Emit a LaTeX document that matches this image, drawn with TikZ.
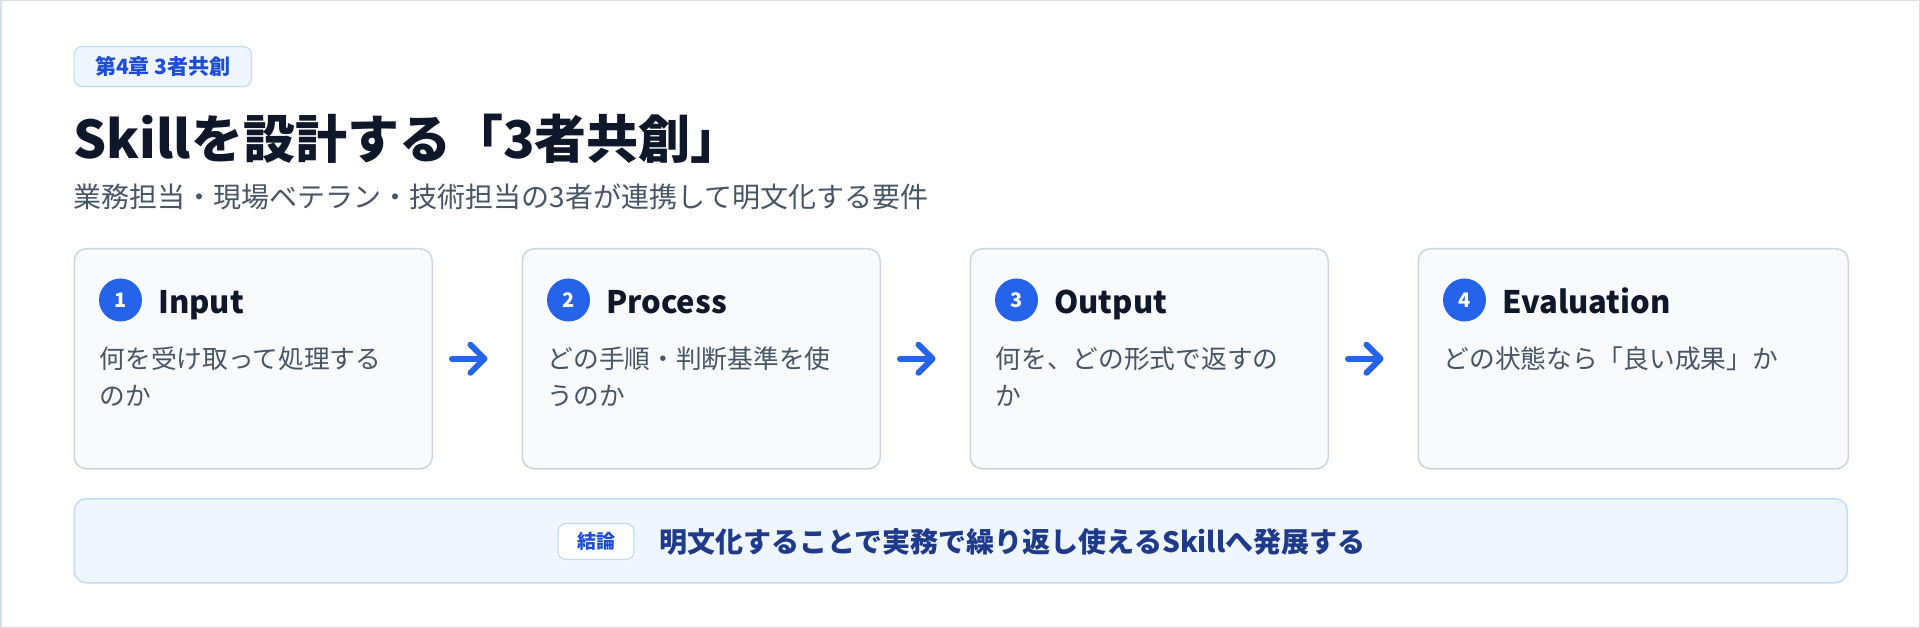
\documentclass[tikz,border=0pt]{standalone}
\usepackage{fontspec}
\setmainfont{Noto Sans CJK JP}
\usepackage{tikz}
\usetikzlibrary{arrows.meta}
\usetikzlibrary{positioning}

\definecolor{accent}{HTML}{2563EB}
\definecolor{tagtext}{HTML}{1D4ED8}
\definecolor{ink}{HTML}{0F172A}
\definecolor{muted}{HTML}{475569}
\definecolor{cardfill}{HTML}{F8FAFC}
\definecolor{cardline}{HTML}{CBD5E1}
\definecolor{softblue}{HTML}{EFF6FF}
\definecolor{softline}{HTML}{BFDBFE}
\definecolor{navy}{HTML}{1E3A8A}
\definecolor{frameline}{HTML}{D6DEE8}

\begin{document}
\begin{tikzpicture}[x=1pt,y=-1pt,
	card/.style={draw=cardline, line width=1.5pt, fill=cardfill, rounded corners=12pt, minimum width=358pt, minimum height=220pt, inner sep=0pt},
	num/.style={circle, fill=accent, text=white, font=\bfseries\fontsize{20}{20}\selectfont, minimum size=43pt, inner sep=0pt},
	head/.style={anchor=base west, inner sep=0pt, text=ink, font=\bfseries\fontsize{31}{31}\selectfont},
	body/.style={anchor=base west, inner sep=0pt, align=left, text=muted, font=\fontsize{25.7}{37}\selectfont},
	flow/.style={draw=accent, line width=6pt, line cap=round, shorten <=19pt, shorten >=34pt, -{Straight Barb[round, length=14pt, width=28pt]}},
	pill/.style={draw=softline, line width=1.2pt, rounded corners=8pt, text=tagtext, font=\bfseries\fontsize{19}{19}\selectfont}]

	\draw[frameline, line width=1.5pt, fill=white] (0.75,0.75) rectangle (1919.25,627.25);
	\useasboundingbox (0,0) rectangle (1920,628);

	\node[pill, fill=softblue, anchor=north west, minimum height=40pt, inner xsep=21pt, font=\bfseries\fontsize{21}{21}\selectfont] (chapter) at (73.5,46) {第4章 3者共創};
	\node[anchor=base west, inner sep=0pt, text=ink, font=\bfseries\fontsize{52}{52}\selectfont] (title) at (73.5,159) {Skillを設計する「3者共創」};
	\node[anchor=base west, inner sep=0pt, text=muted, font=\fontsize{28}{28}\selectfont] (subtitle) at (73.5,208) {業務担当・現場ベテラン・技術担当の3者が連携して明文化する要件};

	\node[card, anchor=north west] (c1) at (73.5,248) {};
	\node[card, right=88.5pt of c1] (c2) {};
	\node[card, right=88.5pt of c2] (c3) {};
	\node[card, right=88.5pt of c3, minimum width=430pt] (c4) {};

	\node[num] (n1) at ([shift={(47,52)}]c1.north west) {1};
	\node[head] (h1) at ([shift={(84.5,66)}]c1.north west) {Input};
	\node[body] (b1) at ([shift={(26,157)}]c1.north west) {何を受け取って処理する\\のか};

	\node[num] (n2) at ([shift={(47,52)}]c2.north west) {2};
	\node[head] (h2) at ([shift={(84.5,66)}]c2.north west) {Process};
	\node[body] (b2) at ([shift={(26,157)}]c2.north west) {どの手順・判断基準を使\\うのか};

	\node[num] (n3) at ([shift={(47,52)}]c3.north west) {3};
	\node[head] (h3) at ([shift={(84.5,66)}]c3.north west) {Output};
	\node[body] (b3) at ([shift={(26,157)}]c3.north west) {何を、どの形式で返すの\\か};

	\node[num] (n4) at ([shift={(47,52)}]c4.north west) {4};
	\node[head] (h4) at ([shift={(84.5,66)}]c4.north west) {Evaluation};
	\node[body] (b4) at ([shift={(26,120)}]c4.north west) {どの状態なら「良い成果」か};

	\foreach \a/\b in {c1/c2, c2/c3, c3/c4}
		\draw[flow] (\a) -- (\b);

	\node[draw=softline, line width=1.5pt, fill=softblue, rounded corners=12pt, anchor=north west, minimum width=1773pt, minimum height=84pt] (summary) at (73.5,498) {};
	\node[pill, fill=white, minimum width=76pt, minimum height=36pt, inner sep=0pt] (verdict) at (596,541.5) {結論};
	\node[right=25pt of verdict, inner sep=0pt, text=navy, font=\bfseries\fontsize{28}{28}\selectfont] (conclusion) {明文化することで実務で繰り返し使えるSkillへ発展する};
\end{tikzpicture}
\end{document}
